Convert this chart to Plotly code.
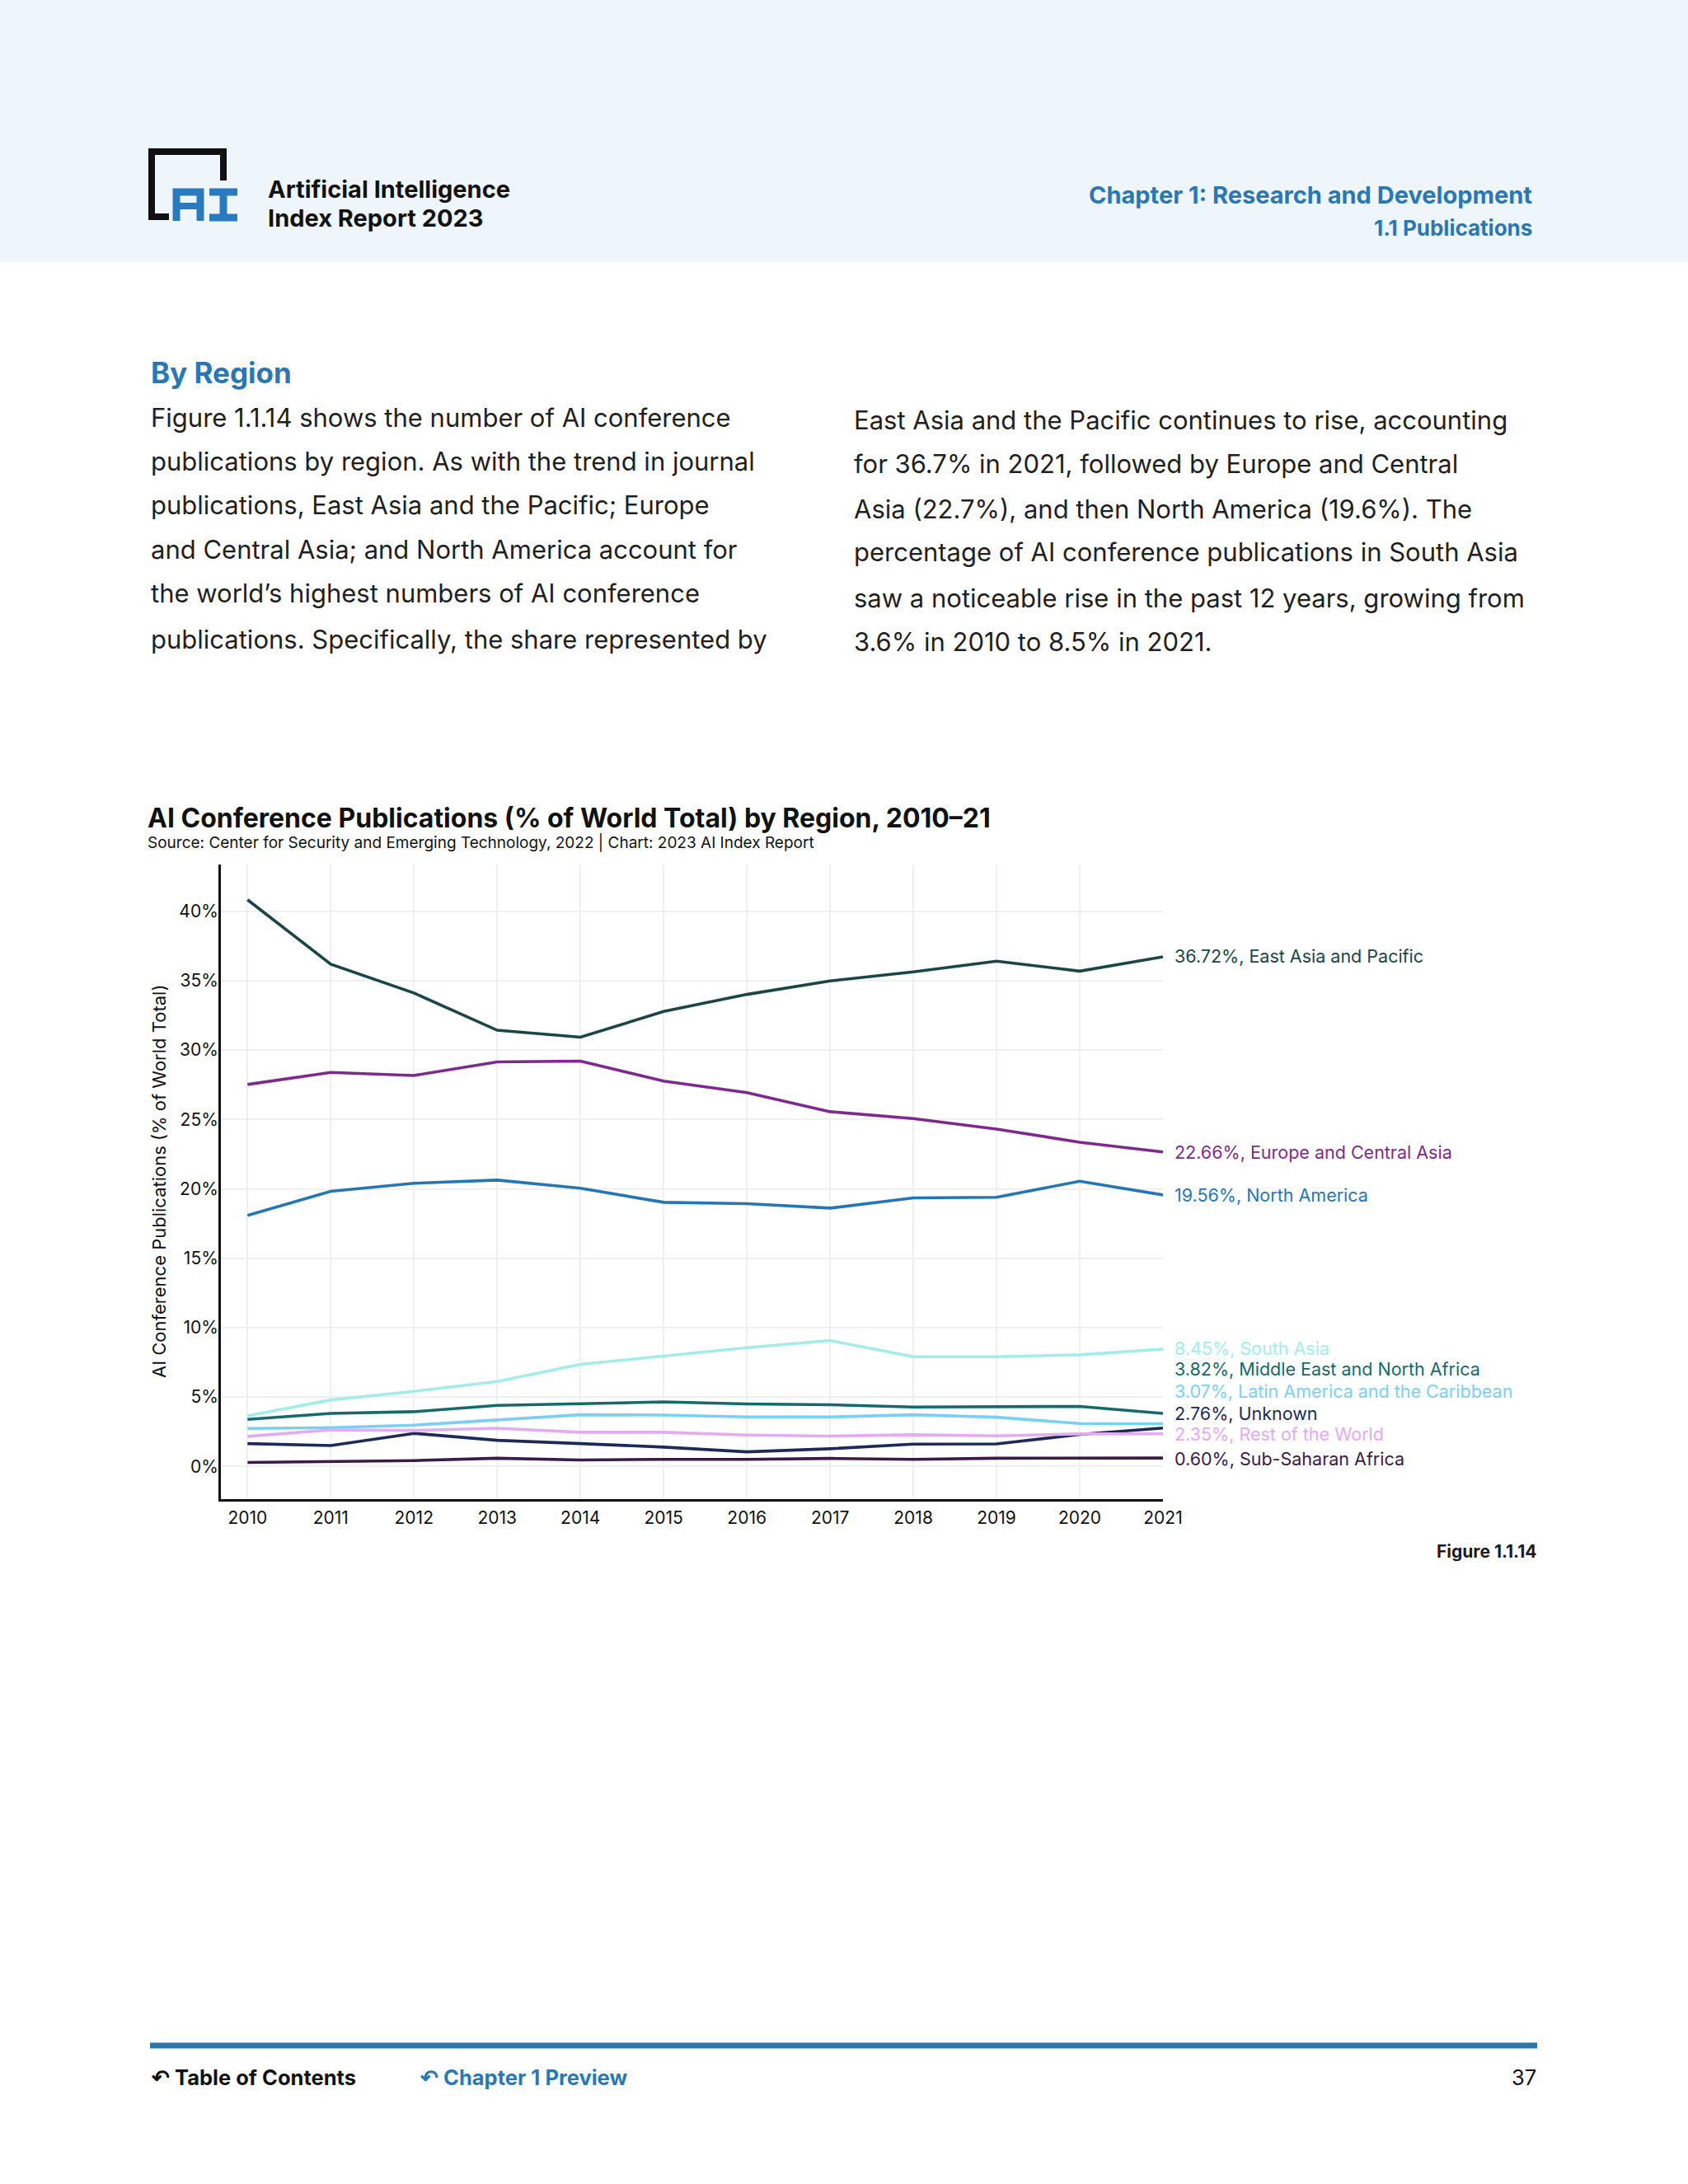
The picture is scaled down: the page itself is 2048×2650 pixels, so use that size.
import plotly.graph_objects as go

# ---------------- data ----------------
years = [2010, 2011, 2012, 2013, 2014, 2015, 2016, 2017, 2018, 2019, 2020, 2021]

east_asia_pacific = [40.83, 36.19, 34.11, 31.43, 30.93, 32.78, 34.01, 34.98, 35.63, 36.41, 35.69, 36.72]
europe_central_asia = [27.52, 28.39, 28.17, 29.15, 29.21, 27.76, 26.94, 25.56, 25.06, 24.31, 23.36, 22.66]
north_america = [18.08, 19.82, 20.40, 20.63, 20.04, 19.03, 18.93, 18.61, 19.35, 19.39, 20.55, 19.56]
south_asia = [3.64, 4.79, 5.41, 6.12, 7.35, 7.94, 8.55, 9.07, 7.90, 7.90, 8.04, 8.45]
middle_east_north_africa = [3.39, 3.82, 3.94, 4.40, 4.51, 4.65, 4.50, 4.44, 4.28, 4.28, 4.32, 3.82]
latin_america_caribbean = [2.73, 2.79, 2.97, 3.35, 3.72, 3.70, 3.56, 3.56, 3.72, 3.54, 3.09, 3.07]
unknown = [1.64, 1.50, 2.38, 1.88, 1.64, 1.39, 1.05, 1.27, 1.60, 1.62, 2.30, 2.76]
rest_of_world = [2.16, 2.63, 2.59, 2.75, 2.46, 2.46, 2.26, 2.18, 2.28, 2.20, 2.34, 2.35]
sub_saharan_africa = [0.28, 0.34, 0.42, 0.59, 0.46, 0.51, 0.51, 0.57, 0.51, 0.59, 0.59, 0.60]

region_names = [
    "East Asia and Pacific", "Europe and Central Asia", "North America", "South Asia",
    "Middle East and North Africa", "Latin America and the Caribbean", "Unknown",
    "Rest of the World", "Sub-Saharan Africa",
]
region_values = [
    east_asia_pacific, europe_central_asia, north_america, south_asia,
    middle_east_north_africa, latin_america_caribbean, unknown,
    rest_of_world, sub_saharan_africa,
]

y_tick_values = [0, 5, 10, 15, 20, 25, 30, 35, 40]
y_tick_labels = ["0%", "5%", "10%", "15%", "20%", "25%", "30%", "35%", "40%"]

# ---------------- styles / layout constants ----------------
colors = ["#1C4646", "#7E2A8C", "#2676B4", "#A3ECEA", "#156A6B",
          "#7CCFF4", "#1B2A58", "#E2ABF4", "#3B1A48"]
# vertical positions of end labels (data units, repelled so they don't overlap)
label_pos = [36.75, 22.67, 19.58, 8.53, 7.04, 5.44, 3.83, 2.35, 0.56]

W, H = 2048, 2650
FONT = "Inter"


def px(x):
    return x / W


def py(y):
    return 1 - y / H


fig = go.Figure()

for name, vals, col in zip(region_names, region_values, colors):
    fig.add_trace(go.Scatter(
        x=years, y=vals, mode="lines", name=name,
        line=dict(color=col, width=3.6), cliponaxis=False, showlegend=False,
        hoverinfo="skip",
    ))

annotations = []
for name, vals, col, ly in zip(region_names, region_values, colors, label_pos):
    annotations.append(dict(
        x=years[-1], y=ly, xref="x", yref="y", xshift=12, xanchor="left", yanchor="middle",
        text=f"{vals[-1]:.2f}%, {name}", showarrow=False,
        font=dict(family=FONT, size=21.5, color=col),
    ))


def txt(x, y, text, size, color="#1a1a1a", bold=False, anchor="left", family=FONT):
    if bold:
        text = f"<b>{text}</b>"
    annotations.append(dict(
        x=px(x), y=py(y), xref="paper", yref="paper", xanchor=anchor, yanchor="middle",
        text=text, showarrow=False, font=dict(family=family, size=size, color=color),
    ))


BLUE = "#2A77B6"

# header
txt(323, 230, "Artificial Intelligence", 29, "#111111", True)
txt(323, 265, "Index Report 2023", 29, "#111111", True)
txt(1861, 237, "Chapter 1: Research and Development", 29, BLUE, True, "right")
txt(1861, 277, "1.1 Publications", 26, BLUE, True, "right")

# section heading + paragraph
txt(181, 452, "By Region", 35, BLUE, True)
left_lines = [
    "Figure 1.1.14 shows the number of AI conference",
    "publications by region. As with the trend in journal",
    "publications, East Asia and the Pacific; Europe",
    "and Central Asia; and North America account for",
    "the world’s highest numbers of AI conference",
    "publications. Specifically, the share represented by",
]
right_lines = [
    "East Asia and the Pacific continues to rise, accounting",
    "for 36.7% in 2021, followed by Europe and Central",
    "Asia (22.7%), and then North America (19.6%). The",
    "percentage of AI conference publications in South Asia",
    "saw a noticeable rise in the past 12 years, growing from",
    "3.6% in 2010 to 8.5% in 2021.",
]
left_y = [507, 560, 613, 667, 720, 775]
right_y = [510, 563, 617, 670, 725, 778]
for t, yy in zip(left_lines, left_y):
    txt(181, yy, t, 31, "#1f1f1f")
for t, yy in zip(right_lines, right_y):
    txt(1034, yy, t, 31, "#1f1f1f")

# chart title + source
txt(177, 992, "AI Conference Publications (% of World Total) by Region, 2010–21", 32, "#111111", True)
txt(177, 1023, "Source: Center for Security and Emerging Technology, 2022 | Chart: 2023 AI Index Report", 19, "#111111")

# y-axis title
annotations.append(dict(
    x=px(193), y=py(1434), xref="paper", yref="paper", xanchor="center", yanchor="middle",
    text="AI Conference Publications (% of World Total)", textangle=-90, showarrow=False,
    font=dict(family=FONT, size=22, color="#111111"),
))

# figure label
txt(1866, 1882, "Figure 1.1.14", 21, "#1a1a2a", True, "right")

# footer
txt(181, 2520, "↶ Table of Contents", 25.5, "#111111", True)
txt(507, 2520, "↶ Chapter 1 Preview", 25.5, BLUE, True)
txt(1866, 2520, "37", 25.5, "#111111", False, "right")

shapes = [
    # header band
    dict(type="rect", xref="paper", yref="paper", x0=0, x1=1, y0=py(318), y1=1,
         fillcolor="#EEF6FC", line=dict(width=0), layer="below"),
    # logo bracket
    dict(type="path", xref="paper", yref="paper",
         path=f"M {px(205)} {py(263)} L {px(184)} {py(263)} L {px(184)} {py(184)} "
              f"L {px(271)} {py(184)} L {px(271)} {py(219)}",
         line=dict(color="#111111", width=8)),
    # logo "A"
    dict(type="path", xref="paper", yref="paper",
         path=f"M {px(214)} {py(268)} L {px(214)} {py(233)} L {px(243)} {py(233)} L {px(243)} {py(268)}",
         line=dict(color="#2A7ABF", width=9)),
    dict(type="line", xref="paper", yref="paper", x0=px(214), x1=px(243), y0=py(250), y1=py(250),
         line=dict(color="#2A7ABF", width=8)),
    # logo "I"
    dict(type="line", xref="paper", yref="paper", x0=px(254), x1=px(288), y0=py(233), y1=py(233),
         line=dict(color="#2A7ABF", width=9)),
    dict(type="line", xref="paper", yref="paper", x0=px(254), x1=px(288), y0=py(264), y1=py(264),
         line=dict(color="#2A7ABF", width=9)),
    dict(type="line", xref="paper", yref="paper", x0=px(271), x1=px(271), y0=py(233), y1=py(268),
         line=dict(color="#2A7ABF", width=9)),
    # footer rule
    dict(type="line", xref="paper", yref="paper", x0=px(182), x1=px(1865), y0=py(2482), y1=py(2482),
         line=dict(color="#2A77AF", width=7)),
]

fig.update_layout(
    width=W, height=H, autosize=False,
    margin=dict(l=0, r=0, t=0, b=0, pad=0),
    paper_bgcolor="white", plot_bgcolor="white",
    showlegend=False,
    annotations=annotations,
    shapes=shapes,
    xaxis=dict(
        domain=[px(268), px(1411)], range=[2009.68, 2021],
        tickmode="array", tickvals=years, ticktext=[str(y) for y in years],
        showgrid=True, gridcolor="#F0F0F0", gridwidth=1.5,
        showline=True, linecolor="#111111", linewidth=3,
        zeroline=False, ticks="", ticklabelstandoff=2,
        tickfont=dict(family=FONT, size=21, color="#111111"),
        fixedrange=True, automargin=False,
    ),
    yaxis=dict(
        domain=[py(1819), py(1049)], range=[-2.36, 43.37],
        tickmode="array", tickvals=y_tick_values, ticktext=y_tick_labels,
        showgrid=True, gridcolor="#F0F0F0", gridwidth=1.5,
        showline=True, linecolor="#111111", linewidth=3,
        zeroline=False, ticks="", ticklabelstandoff=-4,
        tickfont=dict(family=FONT, size=21, color="#111111"),
        fixedrange=True, automargin=False,
    ),
)

page_css = (
    "document.documentElement.style.margin='0';"
    "document.documentElement.style.overflow='hidden';"
    "document.body.style.margin='0';"
    "document.body.style.padding='0';"
    "document.body.style.overflow='hidden';"
)
fig.write_html("out.html", config={"displayModeBar": False}, post_script=page_css)
